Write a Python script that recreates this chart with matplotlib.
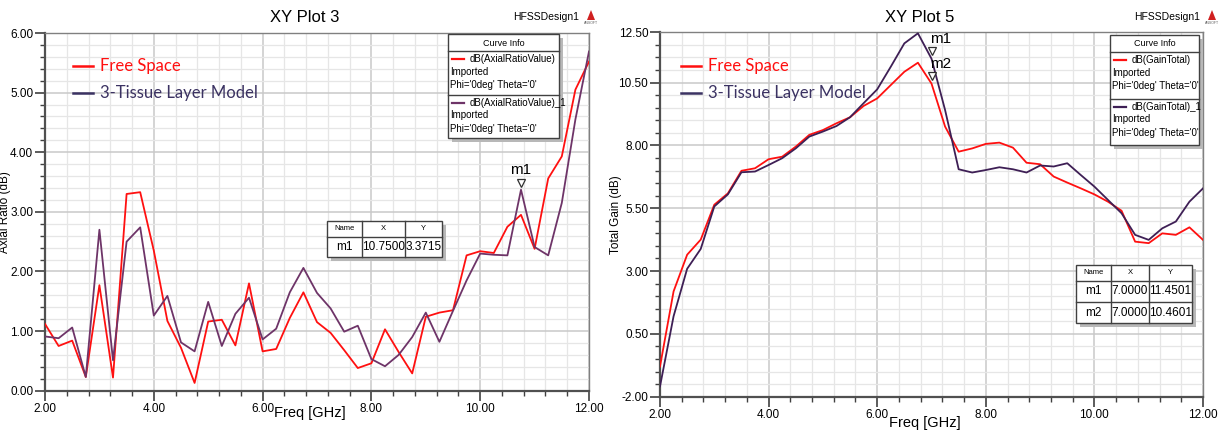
import matplotlib
matplotlib.use("Agg")
import matplotlib.pyplot as plt
from matplotlib.patches import Rectangle, Polygon
from matplotlib.lines import Line2D
from matplotlib.ticker import FixedLocator, FormatStrFormatter

# ---- data (0.25 GHz steps) ----
freq = [2.00, 2.25, 2.50, 2.75, 3.00, 3.25, 3.50, 3.75, 4.00, 4.25,
        4.50, 4.75, 5.00, 5.25, 5.50, 5.75, 6.00, 6.25, 6.50, 6.75,
        7.00, 7.25, 7.50, 7.75, 8.00, 8.25, 8.50, 8.75, 9.00, 9.25,
        9.50, 9.75, 10.00, 10.25, 10.50, 10.75, 11.00, 11.25, 11.50, 11.75,
        12.00]

ar_free = [1.12, 0.75, 0.84, 0.23, 1.77, 0.22, 3.30, 3.33, 2.35, 1.17,
           0.72, 0.13, 1.16, 1.19, 0.76, 1.80, 0.66, 0.70, 1.22, 1.65,
           1.15, 0.97, 0.68, 0.38, 0.46, 1.03, 0.65, 0.29, 1.24, 1.31,
           1.35, 2.27, 2.34, 2.31, 2.75, 2.95, 2.38, 3.56, 3.93, 5.05,
           5.52]
ar_tissue = [0.91, 0.88, 1.06, 0.23, 2.70, 0.51, 2.50, 2.74, 1.26, 1.59,
             0.81, 0.66, 1.49, 0.75, 1.29, 1.56, 0.86, 1.04, 1.65, 2.06,
             1.64, 1.38, 0.99, 1.09, 0.53, 0.41, 0.60, 0.90, 1.31, 0.82,
             1.34, 1.85, 2.30, 2.28, 2.27, 3.3715, 2.41, 2.27, 3.15, 4.55,
             5.69]

gain_free = [-0.80, 2.19, 3.65, 4.25, 5.64, 6.09, 6.99, 7.09, 7.45, 7.55,
             7.95, 8.42, 8.61, 8.88, 9.12, 9.57, 9.87, 10.40, 10.93, 11.29,
             10.4601, 8.75, 7.75, 7.88, 8.06, 8.11, 7.91, 7.31, 7.25, 6.76,
             6.52, 6.29, 6.05, 5.76, 5.40, 4.17, 4.11, 4.50, 4.44, 4.74,
             4.24]
gain_tissue = [-1.59, 1.20, 3.09, 3.88, 5.57, 6.05, 6.93, 6.96, 7.22, 7.49,
               7.88, 8.35, 8.55, 8.77, 9.12, 9.68, 10.23, 11.13, 12.06, 12.46,
               11.4501, 9.41, 7.05, 6.92, 7.02, 7.13, 7.05, 6.92, 7.20, 7.16,
               7.29, 6.82, 6.36, 5.83, 5.30, 4.44, 4.24, 4.70, 4.97, 5.76,
               6.29]

x_ticks = [2.0, 4.0, 6.0, 8.0, 10.0, 12.0]
ar_ticks = [0.0, 1.0, 2.0, 3.0, 4.0, 5.0, 6.0]
gain_ticks = [-2.0, 0.5, 3.0, 5.5, 8.0, 10.5, 12.5]

W, H = 1225, 434
RED = "#ff1010"
PURPLE_AR = "#6e3468"
PURPLE_G = "#3e1f55"
NAVY = "#3b3262"

plt.rcParams["font.family"] = ["Liberation Sans", "DejaVu Sans"]

fig = plt.figure(figsize=(W / 100, H / 100), dpi=100)
fig.patch.set_facecolor("white")


def fx(px):
    return px / W


def fy(py):
    return 1 - py / H


def setup_axes(ax, yticks, yminor, ylim, ylabel):
    ax.set_xlim(2, 12)
    ax.set_ylim(*ylim)
    ax.xaxis.set_major_locator(FixedLocator(x_ticks))
    ax.xaxis.set_minor_locator(FixedLocator([2 + 0.4 * i for i in range(26)]))
    ax.yaxis.set_major_locator(FixedLocator(yticks))
    ax.yaxis.set_minor_locator(FixedLocator(yminor))
    ax.xaxis.set_major_formatter(FormatStrFormatter("%.2f"))
    ax.yaxis.set_major_formatter(FormatStrFormatter("%.2f"))
    ax.grid(which="minor", color="#e6e6e6", lw=0.9)
    ax.grid(which="major", color="#c9c9c9", lw=1.1)
    ax.set_axisbelow(True)
    ax.tick_params(which="major", direction="out", length=7, width=1.2,
                   color="#404040", labelsize=8.5, pad=1.5)
    ax.tick_params(which="minor", direction="out", length=3.5, width=1.0,
                   color="#404040")
    for side in ("left", "bottom"):
        ax.spines[side].set_color("#505050")
        ax.spines[side].set_linewidth(1.6)
    for side in ("top", "right"):
        ax.spines[side].set_color("#808080")
        ax.spines[side].set_linewidth(1.0)
    ax.set_xlabel("Freq [GHz]", fontsize=10.5)
    ax.set_ylabel(ylabel, fontsize=8.5)


def header(ax_cx, title, x_design, x_logo):
    fig.text(fx(ax_cx), fy(17), title, ha="center", va="center", fontsize=12)
    fig.text(fx(x_design), fy(17), "HFSSDesign1", ha="right", va="center",
             fontsize=7.5)
    tri = Polygon([(fx(x_logo - 4), fy(20)), (fx(x_logo + 4), fy(20)),
                   (fx(x_logo), fy(10))], closed=True, transform=fig.transFigure,
                  facecolor="#d02020", edgecolor="none")
    fig.patches.append(tri)
    fig.text(fx(x_logo), fy(23), "ANSOFT", ha="center", va="center",
             fontsize=2.5, color="#606060")


def box_with_shadow(x0, y0, x1, y1):
    shadow = Rectangle((fx(x0 + 4), fy(y1 + 4)), fx(x1 - x0), fy(y0) - fy(y1),
                       transform=fig.transFigure, facecolor="#b8b8b8",
                       edgecolor="none", zorder=5)
    box = Rectangle((fx(x0), fy(y1)), fx(x1 - x0), fy(y0) - fy(y1),
                    transform=fig.transFigure, facecolor="white",
                    edgecolor="#404040", lw=1.0, zorder=6)
    fig.patches.extend([shadow, box])


def hline(x0, x1, y, color="#404040", lw=1.0, z=7):
    fig.lines.append(Line2D([fx(x0), fx(x1)], [fy(y), fy(y)],
                            transform=fig.transFigure, color=color, lw=lw, zorder=z))


def vline(x, y0, y1):
    fig.lines.append(Line2D([fx(x), fx(x)], [fy(y0), fy(y1)],
                            transform=fig.transFigure, color="#404040", lw=1.0, zorder=7))


def curve_info(x0, y0, x1, y1, names, colors):
    box_with_shadow(x0, y0, x1, y1)
    fig.text(fx((x0 + x1) / 2), fy(y0 + 9), "Curve Info", ha="center",
             va="center", fontsize=6.5, zorder=8)
    hline(x0, x1, y0 + 17)
    mid = (y0 + 17 + y1) / 2
    hline(x0, x1, mid)
    for k, (name, col) in enumerate(zip(names, colors)):
        top = y0 + 17 if k == 0 else mid
        hline(x0 + 4, x0 + 16, top + 8, color=col, lw=1.6, z=8)
        fig.text(fx(x0 + 22), fy(top + 8), name, ha="left", va="center",
                 fontsize=7, zorder=8)
        fig.text(fx(x0 + 2), fy(top + 21), "Imported", ha="left", va="center",
                 fontsize=7, zorder=8)
        fig.text(fx(x0 + 2), fy(top + 34), "Phi='0deg' Theta='0'", ha="left",
                 va="center", fontsize=7, zorder=8)


def marker_table(x0, y0, cols, row_h, head_h, rows):
    x1 = cols[-1]
    y1 = y0 + head_h + row_h * len(rows)
    box_with_shadow(x0, y0, x1, y1)
    edges = [x0] + cols
    for c in cols[:-1]:
        vline(c, y0, y1)
    hline(x0, x1, y0 + head_h)
    for k in range(1, len(rows)):
        hline(x0, x1, y0 + head_h + k * row_h)
    for j, name in enumerate(["Name", "X", "Y"]):
        fig.text(fx((edges[j] + edges[j + 1]) / 2), fy(y0 + head_h / 2), name,
                 ha="center", va="center", fontsize=5.5, zorder=8)
    for k, row in enumerate(rows):
        yc = y0 + head_h + row_h * (k + 0.5)
        for j, val in enumerate(row):
            fig.text(fx((edges[j] + edges[j + 1]) / 2), fy(yc), val,
                     ha="center", va="center", fontsize=8.5, zorder=8)


def legend_text(x, y_top, colors):
    for k, (lab, col) in enumerate(zip(["Free Space", "3-Tissue Layer Model"], colors)):
        yy = y_top + 27 * k
        hline(x, x + 20, yy, color=col, lw=1.8, z=8)
        fig.text(fx(x + 27), fy(yy), lab, ha="left", va="center", fontsize=12,
                 color=col, family=["Lato", "DejaVu Sans"], zorder=8)


# ---- left: axial ratio ----
ax1 = fig.add_axes([fx(45), fy(390.7), fx(544), fy(33) - fy(390.7)])
setup_axes(ax1, ar_ticks, [0.2 * i for i in range(31)], (0, 6), "Axial Ratio (dB)")
ax1.yaxis.set_label_coords(-0.063, 0.5)
ax1.xaxis.set_label_coords(0.487, -0.043)
ax1.plot(freq, ar_free, color=RED, lw=1.3, zorder=3)
ax1.plot(freq, ar_tissue, color=PURPLE_AR, lw=1.3, zorder=3)
ax1.plot([10.75], [3.3715 + 0.12], marker="v", mfc="white", mec="#303030",
         ms=6, mew=0.9, zorder=4)
ax1.text(10.75, 3.3715 + 0.22, "m1", ha="center", va="bottom", fontsize=11,
         zorder=4)

header(305, "XY Plot 3", 579, 591)
curve_info(448, 34, 559, 138, ["dB(AxialRatioValue)", "dB(AxialRatioValue)_1"],
           [RED, PURPLE_AR])
marker_table(327, 221, [362, 405, 442], 20, 16, [["m1", "10.7500", "3.3715"]])
legend_text(73, 66, [RED, NAVY])

# ---- right: total gain ----
ax2 = fig.add_axes([fx(660), fy(396.7), fx(543), fy(32.3) - fy(396.7)])
setup_axes(ax2, gain_ticks, [-2 + 0.5 * i for i in range(30)], (-2, 12.5),
           "Total Gain (dB)")
ax2.yaxis.set_label_coords(-0.07, 0.5)
ax2.xaxis.set_label_coords(0.488, -0.052)
ax2.plot(freq, gain_free, color=RED, lw=1.3, zorder=3)
ax2.plot(freq, gain_tissue, color=PURPLE_G, lw=1.3, zorder=3)
for val, lab in [(11.4501, "m1"), (10.4601, "m2")]:
    ax2.plot([7.0], [val + 0.3], marker="v", mfc="white", mec="#303030",
             ms=6, mew=0.9, zorder=4)
    ax2.text(6.98, val + 0.5, lab, ha="left", va="bottom", fontsize=11,
             zorder=4)

header(920, "XY Plot 5", 1200, 1212)
curve_info(1110, 35, 1199, 145, ["dB(GainTotal)", "dB(GainTotal)_1"],
           [RED, PURPLE_G])
marker_table(1076, 265, [1111, 1149, 1192], 21, 16,
             [["m1", "7.0000", "11.4501"], ["m2", "7.0000", "10.4601"]])
legend_text(681, 66, [RED, NAVY])

fig.savefig("out.png", dpi=100)
